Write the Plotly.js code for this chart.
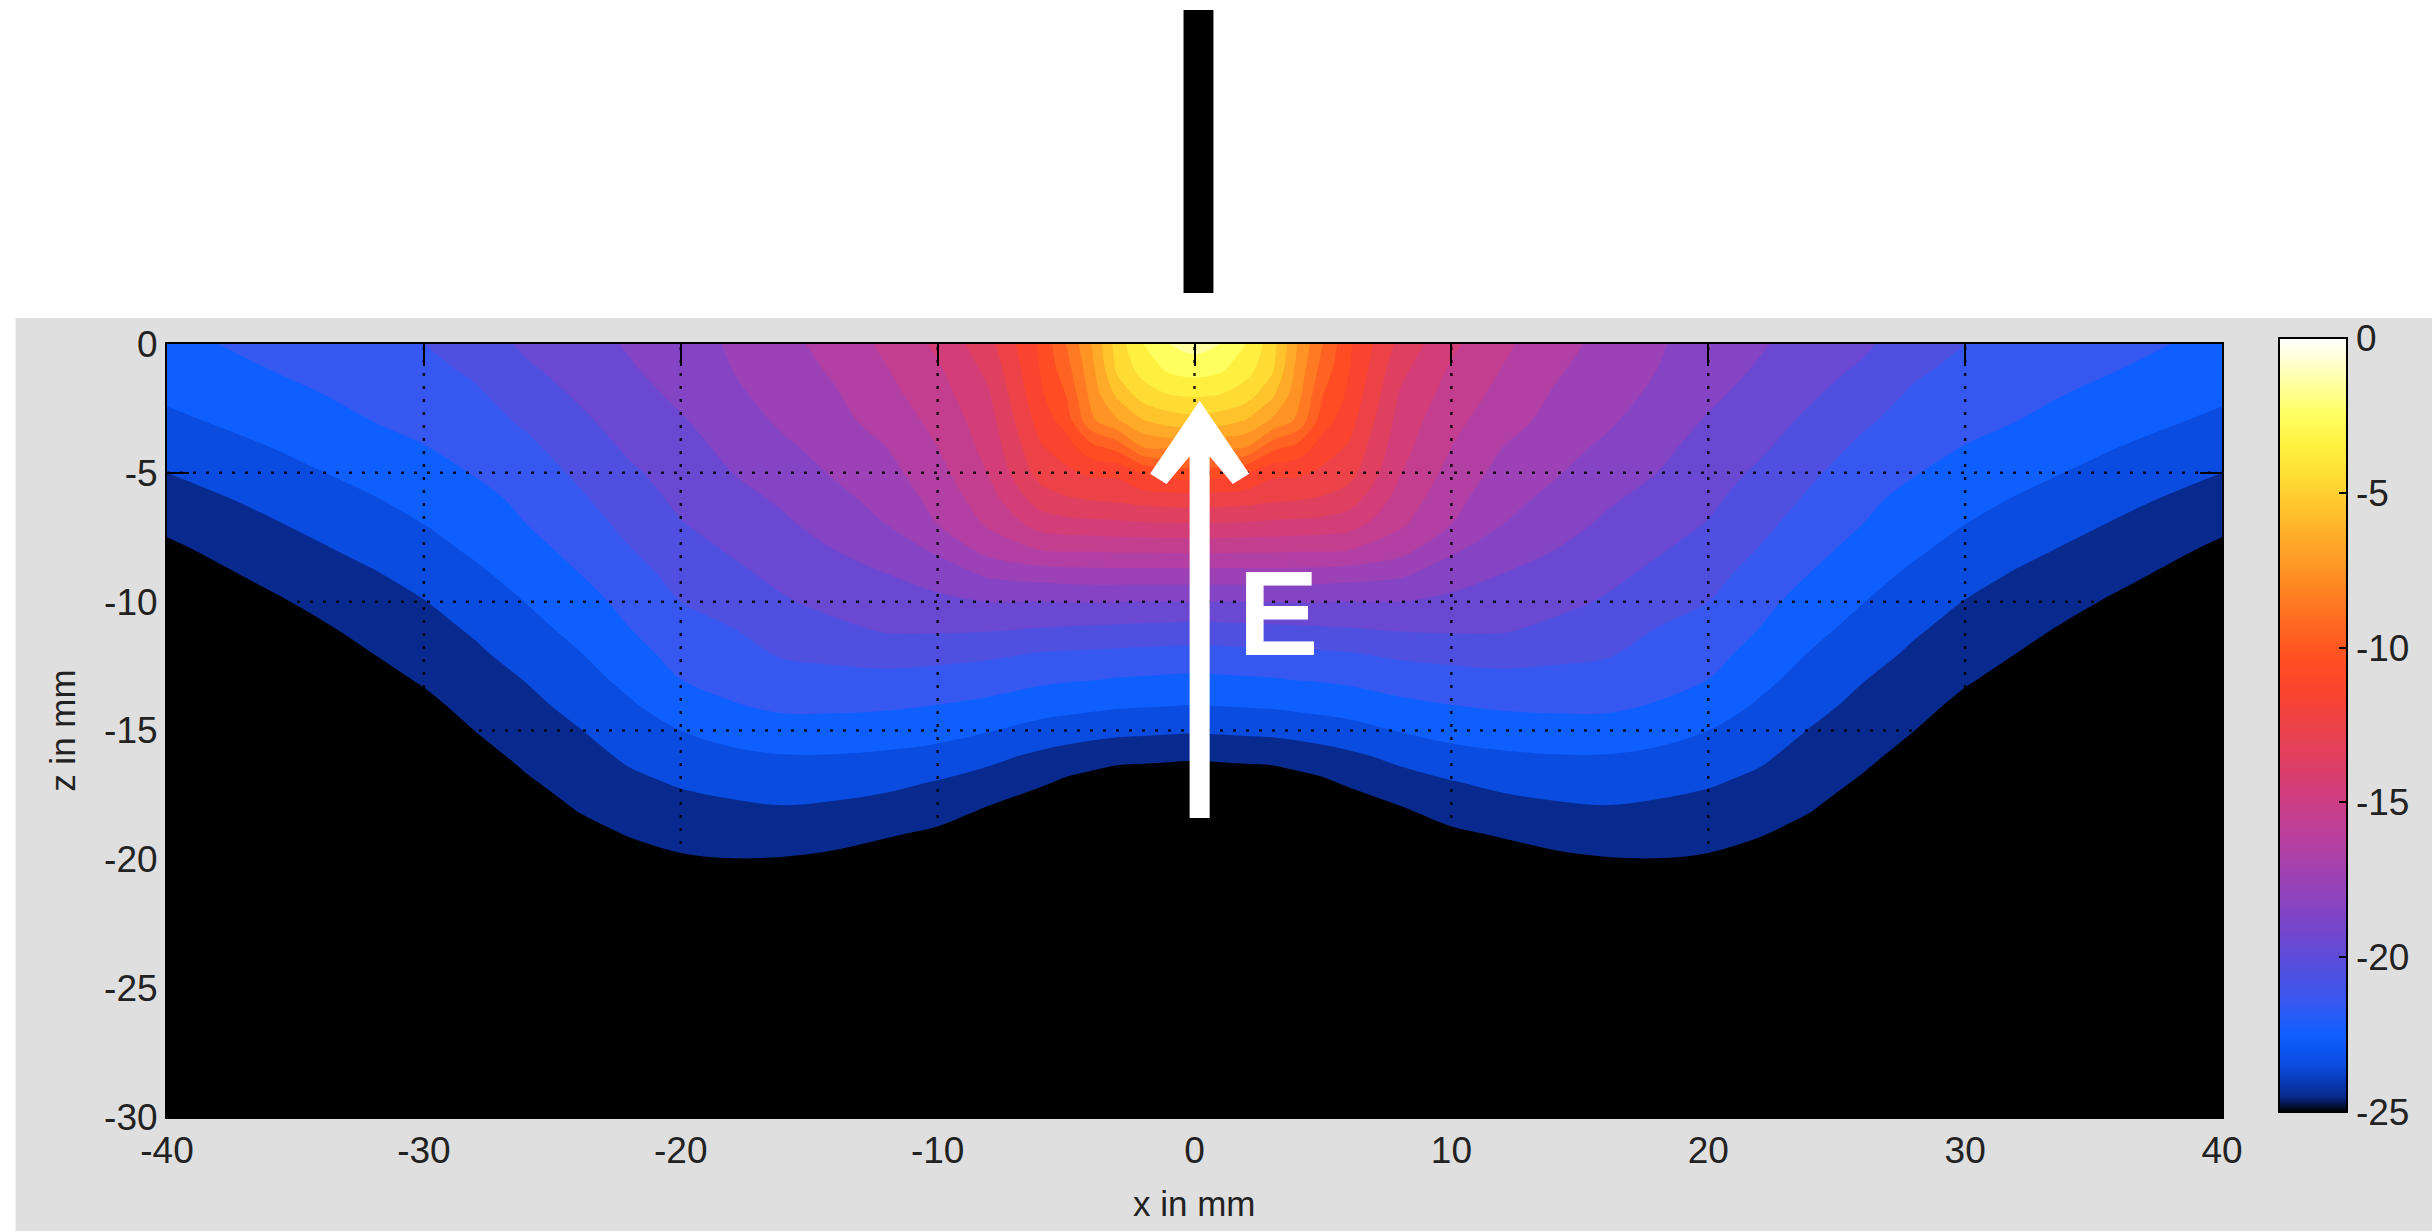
<!DOCTYPE html>
<html>
<head>
<meta charset="utf-8">
<script src="https://cdn.plot.ly/plotly-3.0.1.min.js"></script>
<style>html,body{margin:0;padding:0;background:#fff;}#chart{width:2432px;height:1231px;}</style>
</head>
<body>
<div id="chart"></div>
<script>
// ---- data ----
const X_MM = [-40,-36,-32,-30,-28,-26,-24,-22,-20,-18,-16,-14,-12,-10,-8,-6,-5,-4,-3,-2,-1,0,1,2,3,4,5,6,8,10,12,14,16,18,20,22,24,26,28,30,32,36,40];
const Z_MM = [0,-1,-2,-3,-4,-5,-6,-7,-8,-9,-10,-11,-12,-13,-14,-15,-16,-17,-18,-19,-20,-22,-25,-30];
// field level in dB: one row per depth in Z_MM, one value per x in X_MM
const R00 = [-22.2,-21.8,-21.25,-21.0,-20.6,-19.8,-19.4,-18.9,-18.4,-17.9,-17.3,-16.6,-15.8,-14.8,-13.3,-10.8,-9.0,-7.0,-4.5,-3.0,-2.0,-1.6,-2.0,-3.0,-4.5,-7.0,-9.0,-10.8,-13.3,-14.8,-15.8,-16.6,-17.3,-17.9,-18.4,-18.9,-19.4,-19.8,-20.6,-21.0,-21.25,-21.8,-22.2];
const R01 = [-22.55,-22.0,-21.5,-21.25,-20.85,-20.15,-19.6,-19.1,-18.6,-18.0,-17.5,-16.85,-16.05,-15.15,-13.75,-10.95,-9.45,-7.3,-4.8,-3.6,-2.85,-2.6,-2.85,-3.6,-4.8,-7.3,-9.45,-10.95,-13.75,-15.15,-16.05,-16.85,-17.5,-18.0,-18.6,-19.1,-19.6,-20.15,-20.85,-21.25,-21.5,-22.0,-22.55];
const R02 = [-22.85,-22.3,-21.75,-21.5,-21.15,-20.5,-19.9,-19.4,-18.8,-18.15,-17.7,-17.1,-16.3,-15.45,-14.1,-11.2,-10.0,-7.65,-5.8,-4.55,-4.05,-3.9,-4.05,-4.55,-5.8,-7.65,-10.0,-11.2,-14.1,-15.45,-16.3,-17.1,-17.7,-18.15,-18.8,-19.4,-19.9,-20.5,-21.15,-21.5,-21.75,-22.3,-22.85];
const R03 = [-23.2,-22.65,-22.0,-21.75,-21.4,-20.85,-20.2,-19.6,-19.1,-18.45,-17.85,-17.35,-16.55,-15.75,-14.4,-11.6,-10.6,-8.2,-7.15,-6.1,-5.6,-5.4,-5.6,-6.1,-7.15,-8.2,-10.6,-11.6,-14.4,-15.75,-16.55,-17.35,-17.85,-18.45,-19.1,-19.6,-20.2,-20.85,-21.4,-21.75,-22.0,-22.65,-23.2];
const R04 = [-23.6,-23.0,-22.35,-22.03,-21.65,-21.2,-20.5,-19.85,-19.35,-18.75,-18.15,-17.65,-17.0,-16.0,-14.65,-12.1,-11.5,-10.3,-9.6,-8.0,-7.8,-7.75,-7.8,-8.0,-9.6,-10.3,-11.5,-12.1,-14.65,-16.0,-17.0,-17.65,-18.15,-18.75,-19.35,-19.85,-20.5,-21.2,-21.65,-22.03,-22.35,-23.0,-23.6];
const R05 = [-24.0,-23.35,-22.7,-22.35,-21.95,-21.5,-20.85,-20.15,-19.6,-19.0,-18.5,-17.9,-17.33,-16.33,-14.95,-12.6,-12.2,-11.8,-11.75,-10.9,-10.6,-10.5,-10.6,-10.9,-11.75,-11.8,-12.2,-12.6,-14.95,-16.33,-17.33,-17.9,-18.5,-19.0,-19.6,-20.15,-20.85,-21.5,-21.95,-22.35,-22.7,-23.35,-24.0];
const R06 = [-24.4,-23.75,-23.05,-22.68,-22.25,-21.8,-21.15,-20.45,-19.8,-19.3,-18.85,-18.25,-17.67,-16.67,-15.4,-13.5,-13.1,-12.9,-12.8,-12.55,-12.45,-12.4,-12.45,-12.55,-12.8,-12.9,-13.1,-13.5,-15.4,-16.67,-17.67,-18.25,-18.85,-19.3,-19.8,-20.45,-21.15,-21.8,-22.25,-22.68,-23.05,-23.75,-24.4];
const R07 = [-24.8,-24.1,-23.4,-23.0,-22.55,-22.0,-21.45,-20.75,-20.05,-19.6,-19.15,-18.6,-18.0,-17.0,-15.85,-14.6,-14.4,-14.3,-14.25,-14.15,-14.1,-14.1,-14.1,-14.15,-14.25,-14.3,-14.4,-14.6,-15.85,-17.0,-18.0,-18.6,-19.15,-19.6,-20.05,-20.75,-21.45,-22.0,-22.55,-23.0,-23.4,-24.1,-24.8];
const R08 = [-25.2,-24.45,-23.75,-23.35,-22.85,-22.3,-21.75,-21.05,-20.4,-19.9,-19.45,-19.0,-18.55,-17.85,-16.65,-16.0,-15.9,-15.9,-15.85,-15.85,-15.8,-15.8,-15.8,-15.85,-15.85,-15.9,-15.9,-16.0,-16.65,-17.85,-18.55,-19.0,-19.45,-19.9,-20.4,-21.05,-21.75,-22.3,-22.85,-23.35,-23.75,-24.45,-25.2];
const R09 = [-25.55,-24.8,-24.1,-23.7,-23.2,-22.65,-22.05,-21.4,-20.7,-20.25,-19.75,-19.35,-19.05,-18.55,-17.9,-17.65,-17.55,-17.5,-17.5,-17.5,-17.5,-17.5,-17.5,-17.5,-17.5,-17.5,-17.55,-17.65,-17.9,-18.55,-19.05,-19.35,-19.75,-20.25,-20.7,-21.4,-22.05,-22.65,-23.2,-23.7,-24.1,-24.8,-25.55];
const R10 = [-25.9,-25.15,-24.4,-24.03,-23.5,-22.97,-22.35,-21.75,-21.0,-20.6,-20.1,-19.7,-19.5,-19.25,-19.0,-19.0,-18.97,-18.95,-18.97,-19.0,-19.0,-19.0,-19.0,-19.0,-18.97,-18.95,-18.97,-19.0,-19.0,-19.25,-19.5,-19.7,-20.1,-20.6,-21.0,-21.75,-22.35,-22.97,-23.5,-24.03,-24.4,-25.15,-25.9];
const R11 = [-26.25,-25.5,-24.7,-24.33,-23.85,-23.3,-22.7,-22.0,-21.35,-21.0,-20.5,-20.2,-19.85,-19.8,-19.85,-20.0,-20.05,-20.1,-20.15,-20.2,-20.25,-20.3,-20.25,-20.2,-20.15,-20.1,-20.05,-20.0,-19.85,-19.8,-19.85,-20.2,-20.5,-21.0,-21.35,-22.0,-22.7,-23.3,-23.85,-24.33,-24.7,-25.5,-26.25];
const R12 = [-26.6,-25.8,-25.0,-24.6,-24.15,-23.6,-23.05,-22.35,-21.65,-21.3,-20.9,-20.75,-20.55,-20.65,-20.8,-21.05,-21.1,-21.15,-21.2,-21.25,-21.3,-21.3,-21.3,-21.25,-21.2,-21.15,-21.1,-21.05,-20.8,-20.65,-20.55,-20.75,-20.9,-21.3,-21.65,-22.35,-23.05,-23.6,-24.15,-24.6,-25.0,-25.8,-26.6];
const R13 = [-26.9,-26.1,-25.3,-24.9,-24.45,-23.95,-23.35,-22.75,-22.0,-21.7,-21.35,-21.3,-21.3,-21.4,-21.55,-21.8,-21.9,-21.95,-22.05,-22.1,-22.15,-22.2,-22.15,-22.1,-22.05,-21.95,-21.9,-21.8,-21.55,-21.4,-21.3,-21.3,-21.35,-21.7,-22.0,-22.75,-23.35,-23.95,-24.45,-24.9,-25.3,-26.1,-26.9];
const R14 = [-27.2,-26.4,-25.6,-25.2,-24.72,-24.25,-23.7,-23.1,-22.5,-22.05,-21.8,-21.8,-21.85,-22.0,-22.2,-22.55,-22.65,-22.75,-22.85,-22.9,-22.95,-23.0,-22.95,-22.9,-22.85,-22.75,-22.65,-22.55,-22.2,-22.0,-21.85,-21.8,-21.8,-22.05,-22.5,-23.1,-23.7,-24.25,-24.72,-25.2,-25.6,-26.4,-27.2];
const R15 = [-27.5,-26.7,-25.9,-25.5,-24.99,-24.5,-24.05,-23.5,-23.0,-22.65,-22.4,-22.4,-22.5,-22.65,-22.95,-23.35,-23.5,-23.65,-23.75,-23.8,-23.85,-23.9,-23.85,-23.8,-23.75,-23.65,-23.5,-23.35,-22.95,-22.65,-22.5,-22.4,-22.4,-22.65,-23.0,-23.5,-24.05,-24.5,-24.99,-25.5,-25.9,-26.7,-27.5];
const R16 = [-27.8,-27.0,-26.2,-25.8,-25.3,-24.8,-24.35,-23.85,-23.45,-23.2,-23.05,-23.05,-23.15,-23.35,-23.75,-24.2,-24.4,-24.55,-24.7,-24.75,-24.8,-24.85,-24.8,-24.75,-24.7,-24.55,-24.4,-24.2,-23.75,-23.35,-23.15,-23.05,-23.05,-23.2,-23.45,-23.85,-24.35,-24.8,-25.3,-25.8,-26.2,-27.0,-27.8];
const R17 = [-28.1,-27.3,-26.5,-26.1,-25.6,-25.1,-24.65,-24.2,-23.9,-23.7,-23.55,-23.6,-23.75,-24.05,-24.4,-24.85,-25.15,-25.35,-25.55,-25.6,-25.65,-25.7,-25.65,-25.6,-25.55,-25.35,-25.15,-24.85,-24.4,-24.05,-23.75,-23.6,-23.55,-23.7,-23.9,-24.2,-24.65,-25.1,-25.6,-26.1,-26.5,-27.3,-28.1];
const R18 = [-28.4,-27.6,-26.8,-26.35,-25.9,-25.4,-24.95,-24.6,-24.3,-24.15,-24.05,-24.15,-24.35,-24.6,-25.05,-25.6,-25.95,-26.2,-26.35,-26.4,-26.45,-26.5,-26.45,-26.4,-26.35,-26.2,-25.95,-25.6,-25.05,-24.6,-24.35,-24.15,-24.05,-24.15,-24.3,-24.6,-24.95,-25.4,-25.9,-26.35,-26.8,-27.6,-28.4];
const R19 = [-28.7,-27.9,-27.05,-26.6,-26.2,-25.7,-25.25,-24.95,-24.7,-24.55,-24.55,-24.65,-24.9,-25.15,-25.7,-26.35,-26.65,-26.95,-27.05,-27.1,-27.15,-27.2,-27.15,-27.1,-27.05,-26.95,-26.65,-26.35,-25.7,-25.15,-24.9,-24.65,-24.55,-24.55,-24.7,-24.95,-25.25,-25.7,-26.2,-26.6,-27.05,-27.9,-28.7];
const R20 = [-29.0,-28.2,-27.3,-26.85,-26.45,-25.95,-25.55,-25.3,-25.1,-25.02,-25.05,-25.2,-25.45,-25.7,-26.3,-26.95,-27.3,-27.65,-27.75,-27.8,-27.85,-27.9,-27.85,-27.8,-27.75,-27.65,-27.3,-26.95,-26.3,-25.7,-25.45,-25.2,-25.05,-25.02,-25.1,-25.3,-25.55,-25.95,-26.45,-26.85,-27.3,-28.2,-29.0];
const R22 = [-29.5,-28.7,-27.8,-27.4,-27.05,-26.5,-26.1,-26.0,-25.9,-25.9,-26.0,-26.3,-26.5,-26.8,-27.5,-28.2,-28.55,-28.9,-28.95,-29.0,-29.05,-29.1,-29.05,-29.0,-28.95,-28.9,-28.55,-28.2,-27.5,-26.8,-26.5,-26.3,-26.0,-25.9,-25.9,-26.0,-26.1,-26.5,-27.05,-27.4,-27.8,-28.7,-29.5];
const R25 = [-30.3,-29.5,-28.6,-28.2,-27.8,-27.3,-26.9,-27.0,-27.2,-27.5,-27.6,-27.9,-28.2,-28.5,-29.2,-29.8,-30.1,-30.4,-30.45,-30.5,-30.55,-30.6,-30.55,-30.5,-30.45,-30.4,-30.1,-29.8,-29.2,-28.5,-28.2,-27.9,-27.6,-27.5,-27.2,-27.0,-26.9,-27.3,-27.8,-28.2,-28.6,-29.5,-30.3];
const R30 = [-31.5,-30.8,-29.8,-29.4,-29.0,-28.5,-28.2,-28.6,-29.0,-29.6,-29.8,-30.2,-30.5,-30.8,-31.4,-31.8,-32.0,-32.2,-32.25,-32.3,-32.4,-32.5,-32.4,-32.3,-32.25,-32.2,-32.0,-31.8,-31.4,-30.8,-30.5,-30.2,-29.8,-29.6,-29.0,-28.6,-28.2,-28.5,-29.0,-29.4,-29.8,-30.8,-31.5];
const FIELD_DB = [R00,R01,R02,R03,R04,R05,R06,R07,R08,R09,R10,R11,R12,R13,R14,R15,R16,R17,R18,R19,R20,R22,R25,R30];

const X_TICKS = [-40,-30,-20,-10,0,10,20,30,40];
const X_TICK_LABELS = ['-40','-30','-20','-10','0','10','20','30','40'];
const Z_TICKS = [-30,-25,-20,-15,-10,-5,0];
const Z_TICK_LABELS = ['-30','-25','-20','-15','-10','-5','0'];
const CB_TICKS = [-25,-20,-15,-10,-5,0];
const CB_TICK_LABELS = ['-25','-20','-15','-10','-5','0'];
const X_GRID = [-30,-20,-10,0,10,20,30];
const Z_GRID = [-25,-20,-15,-10,-5];

const X_TITLE = 'x in mm';
const Z_TITLE = 'z in mm';
const FIELD_LABEL = 'E';

// ---- style ----
const COLORSCALE = [
  [0.00,'#000000'],[0.02,'#082a8e'],[0.06,'#0a4cdf'],[0.10,'#0f5fff'],[0.14,'#3658f0'],
  [0.18,'#5050e0'],[0.22,'#6a48d2'],[0.26,'#8444c4'],[0.30,'#9c42b6'],[0.34,'#b240a4'],
  [0.38,'#c43e90'],[0.42,'#d43e78'],[0.46,'#e04060'],[0.50,'#ec4248'],[0.54,'#fa4430'],
  [0.58,'#ff4c22'],[0.62,'#ff6222'],[0.66,'#ff7a22'],[0.70,'#ff9424'],[0.74,'#ffaa28'],
  [0.78,'#ffc42c'],[0.82,'#ffdc34'],[0.86,'#fff040'],[0.90,'#ffff60'],[0.94,'#ffffa0'],
  [0.98,'#ffffe0'],[1.00,'#ffffff']
];
const FONT = 'Liberation Sans, Arial, Helvetica, sans-serif';
const TXT = '#222222';
const W = 2432, H = 1231;
const M = {l:167, r:203, t:344, b:114};
const PW = W - M.l - M.r, PH = H - M.t - M.b;
const px2paperX = p => (p - M.l) / PW;
const px2paperY = p => (H - M.b - p) / PH;
const CB = {left:2286, top:338, len:774, thick:68};

// arrow geometry (annotation), relative to its axis position, in mm
const ARROW = {x: 0.2, tipZ: -2.2, tailZ: -18.4, half: 0.39,
  wingOuter: [1.93, -5.04], wingInner: [1.29, -5.43], neckZ: -4.36};

const traces = [
  { // continuous colour bar
    type:'heatmap', x:X_MM, y:Z_MM, z:FIELD_DB, zmin:-25, zmax:0, zauto:false,
    colorscale:COLORSCALE, hoverinfo:'skip', showscale:true,
    colorbar:{
      x:px2paperX(CB.left), xanchor:'left', xpad:0,
      y:px2paperY(CB.top + CB.len/2), yanchor:'middle', ypad:0,
      len:CB.len, lenmode:'pixels', thickness:CB.thick, thicknessmode:'pixels',
      outlinewidth:2, outlinecolor:'#000',
      tickvals:CB_TICKS, ticktext:CB_TICK_LABELS,
      ticks:'inside', ticklen:9, tickwidth:2, tickcolor:'#000',
      tickfont:{family:FONT, size:37, color:TXT}
    }
  },
  {
    type:'contour', x:X_MM, y:Z_MM, z:FIELD_DB, zmin:-25, zmax:0, zauto:false,
    autocontour:false, contours:{start:-25, end:0, size:1, coloring:'fill', showlines:false},
    line:{width:0, smoothing:1}, colorscale:COLORSCALE, showscale:false, hoverinfo:'skip'
  }
];

const shapes = [];
// grey figure area
shapes.push({type:'rect', xref:'paper', yref:'paper', layer:'below',
  x0:px2paperX(15), x1:px2paperX(W+10), y0:px2paperY(H+10), y1:px2paperY(318),
  fillcolor:'#dfdfdf', line:{width:0}});
// probe bar above the plot
shapes.push({type:'rect', xref:'paper', yref:'paper', layer:'above',
  x0:px2paperX(1187), x1:px2paperX(1217), y0:px2paperY(293), y1:px2paperY(10),
  fillcolor:'#000', line:{width:0}});
// dotted grid above the field
X_GRID.forEach(v => shapes.push({type:'line', xref:'x', yref:'y', layer:'above',
  x0:v, x1:v, y0:-30, y1:0, line:{color:'rgba(0,0,0,0.85)', width:2.5, dash:'3px,10px'}}));
Z_GRID.forEach(v => shapes.push({type:'line', xref:'x', yref:'y', layer:'above',
  x0:-40, x1:40, y0:v, y1:v, line:{color:'rgba(0,0,0,0.85)', width:2.5, dash:'3px,10px'}}));
// colour-bar ticks on the left edge too (as in the original)
CB_TICKS.filter(v => v > -25 && v < 0).forEach(v => {
  const py = CB.top + CB.len * (0 - v) / 25;
  shapes.push({type:'line', xref:'paper', yref:'paper', layer:'above',
    x0:px2paperX(CB.left), x1:px2paperX(CB.left + 9), y0:px2paperY(py), y1:px2paperY(py),
    line:{color:'#000', width:2}});
});
// E-field arrow
(function(){
  const a = ARROW, x = a.x;
  const pts = [
    [x, a.tipZ],
    [x + a.wingOuter[0], a.wingOuter[1]],
    [x + a.wingInner[0], a.wingInner[1]],
    [x + a.half, a.neckZ],
    [x + a.half, a.tailZ],
    [x - a.half, a.tailZ],
    [x - a.half, a.neckZ],
    [x - a.wingInner[0], a.wingInner[1]],
    [x - a.wingOuter[0], a.wingOuter[1]]
  ];
  const path = 'M' + pts.map(p => p[0] + ',' + p[1]).join(' L') + ' Z';
  shapes.push({type:'path', xref:'x', yref:'y', layer:'above', path:path,
    fillcolor:'#ffffff', line:{width:0}});
})();

const annotations = [
  {text:'<b>' + FIELD_LABEL + '</b>', x:3.26, y:-10.44, xref:'x', yref:'y', showarrow:false,
   xanchor:'center', yanchor:'middle', font:{family:FONT, size:121, color:'#ffffff'}},
  {text:X_TITLE, x:0.5, y:px2paperY(1203), xref:'paper', yref:'paper', showarrow:false,
   xanchor:'center', yanchor:'middle', font:{family:FONT, size:35, color:TXT}},
  {text:Z_TITLE, x:px2paperX(62), y:0.5, xref:'paper', yref:'paper', showarrow:false, textangle:-90,
   xanchor:'center', yanchor:'middle', font:{family:FONT, size:35, color:TXT}}
];

const axisCommon = {
  ticks:'inside', ticklen:22, tickwidth:2, tickcolor:'#000',
  showline:true, linecolor:'#000', linewidth:2, mirror:'ticks',
  showgrid:false, zeroline:false, layer:'above traces', automargin:false,
  tickfont:{family:FONT, size:37, color:TXT}
};

const layout = {
  width:W, height:H, margin:{l:M.l, r:M.r, t:M.t, b:M.b, pad:0},
  paper_bgcolor:'#ffffff', plot_bgcolor:'#000000', showlegend:false,
  font:{family:FONT, size:37, color:TXT},
  xaxis:Object.assign({}, axisCommon, {range:[-40,40], tickvals:X_TICKS, ticktext:X_TICK_LABELS}),
  yaxis:Object.assign({}, axisCommon, {range:[-30,0], tickvals:Z_TICKS, ticktext:Z_TICK_LABELS}),
  shapes:shapes, annotations:annotations
};

Plotly.newPlot('chart', traces, layout, {displayModeBar:false, staticPlot:true});
</script>
</body>
</html>
